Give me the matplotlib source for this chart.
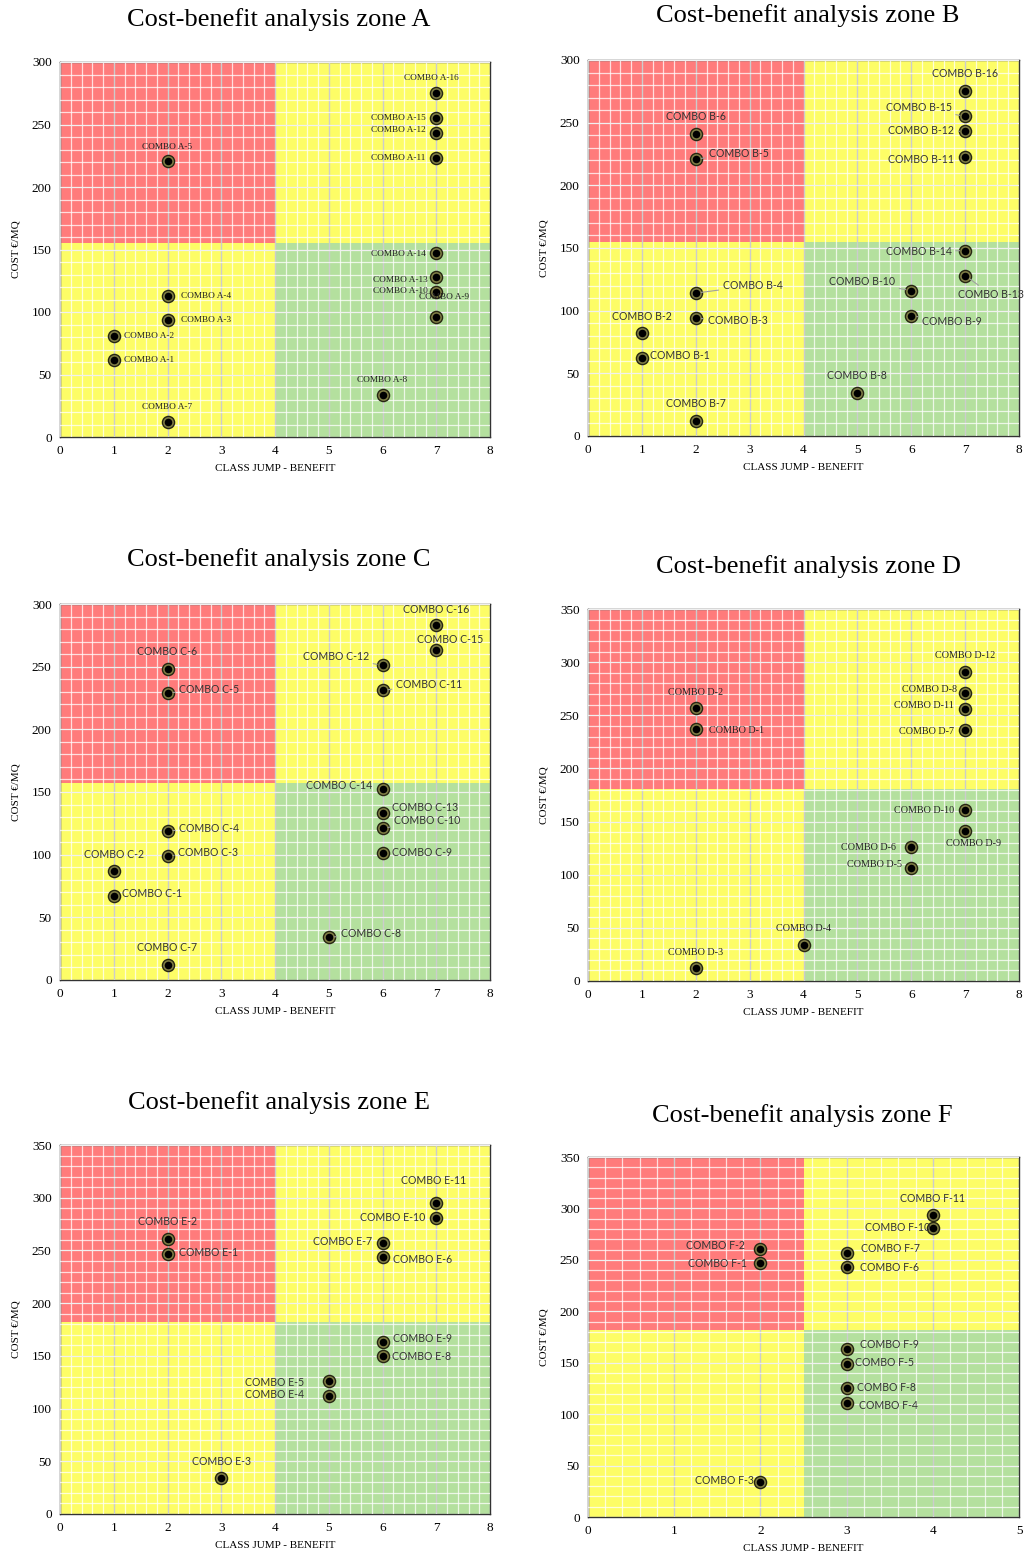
import matplotlib
matplotlib.use('Agg')
import matplotlib.pyplot as plt
import numpy as np

# ---- data ----
# zone A
a_names = ['COMBO A-1', 'COMBO A-2', 'COMBO A-3', 'COMBO A-4', 'COMBO A-5', 'COMBO A-7', 'COMBO A-8',
           'COMBO A-9', 'COMBO A-10', 'COMBO A-11', 'COMBO A-12', 'COMBO A-13', 'COMBO A-14',
           'COMBO A-15', 'COMBO A-16']
a_x = [1, 1, 2, 2, 2, 2, 6, 7, 7, 7, 7, 7, 7, 7, 7]
a_y = [62, 81, 94, 113, 221, 12, 34, 96, 116, 223, 243, 128, 147, 255, 275]

# zone B
b_names = ['COMBO B-1', 'COMBO B-2', 'COMBO B-3', 'COMBO B-4', 'COMBO B-5', 'COMBO B-6', 'COMBO B-7',
           'COMBO B-8', 'COMBO B-9', 'COMBO B-10', 'COMBO B-11', 'COMBO B-12', 'COMBO B-13',
           'COMBO B-14', 'COMBO B-15', 'COMBO B-16']
b_x = [1, 1, 2, 2, 2, 2, 2, 5, 6, 6, 7, 7, 7, 7, 7, 7]
b_y = [62, 82, 94, 114, 221, 241, 12, 34, 96, 116, 223, 243, 128, 148, 255, 275]

# zone C
c_names = ['COMBO C-1', 'COMBO C-2', 'COMBO C-3', 'COMBO C-4', 'COMBO C-5', 'COMBO C-6', 'COMBO C-7',
           'COMBO C-8', 'COMBO C-9', 'COMBO C-10', 'COMBO C-11', 'COMBO C-12', 'COMBO C-13',
           'COMBO C-14', 'COMBO C-15', 'COMBO C-16']
c_x = [1, 1, 2, 2, 2, 2, 2, 5, 6, 6, 6, 6, 6, 6, 7, 7]
c_y = [67, 87, 99, 119, 229, 248, 12, 34, 101, 121, 231, 251, 133, 152, 263, 283]

# zone D
d_names = ['COMBO D-1', 'COMBO D-2', 'COMBO D-3', 'COMBO D-4', 'COMBO D-5', 'COMBO D-6', 'COMBO D-7',
           'COMBO D-8', 'COMBO D-9', 'COMBO D-10', 'COMBO D-11', 'COMBO D-12']
d_x = [2, 2, 2, 4, 6, 6, 7, 7, 7, 7, 7, 7]
d_y = [237, 257, 12, 34, 106, 126, 236, 271, 141, 161, 256, 291]

# zone E
e_names = ['COMBO E-1', 'COMBO E-2', 'COMBO E-3', 'COMBO E-4', 'COMBO E-5', 'COMBO E-6', 'COMBO E-7',
           'COMBO E-8', 'COMBO E-9', 'COMBO E-10', 'COMBO E-11']
e_x = [2, 2, 3, 5, 5, 6, 6, 6, 6, 7, 7]
e_y = [247, 261, 34, 112, 126, 244, 257, 150, 163, 281, 295]

# zone F
f_names = ['COMBO F-1', 'COMBO F-2', 'COMBO F-3', 'COMBO F-4', 'COMBO F-5', 'COMBO F-6', 'COMBO F-7',
           'COMBO F-8', 'COMBO F-9', 'COMBO F-10', 'COMBO F-11']
f_x = [2, 2, 2, 3, 3, 3, 3, 3, 3, 4, 4]
f_y = [247, 261, 34, 111, 149, 243, 257, 125, 163, 281, 294]

# label placement (text x, text y, ha, leader line)
a_lab = [(1.2, 62, 'left', 0), (1.2, 81, 'left', 0), (2.25, 94, 'left', 0), (2.25, 113, 'left', 0),
         (2.0, 232, 'center', 0), (2.0, 24, 'center', 0), (6.0, 46, 'center', 0), (7.15, 112, 'center', 0),
         (6.85, 117, 'right', 0), (6.8, 223, 'right', 0), (6.8, 246, 'right', 0), (6.85, 126, 'right', 0),
         (6.8, 146, 'right', 0), (6.8, 255, 'right', 0), (6.9, 287, 'center', 0)]
b_lab = [(1.15, 64, 'left', 0), (1.0, 95, 'center', 0), (2.22, 92, 'left', 1), (2.5, 120, 'left', 1),
         (2.25, 225, 'left', 1), (2.0, 255, 'center', 0), (2.0, 26, 'center', 0), (5.0, 48, 'center', 0),
         (6.2, 91, 'left', 1), (5.7, 123, 'right', 1), (6.8, 221, 'right', 0), (6.8, 244, 'right', 1),
         (6.87, 113, 'left', 1), (6.75, 147, 'right', 1), (6.75, 262, 'right', 1), (7.0, 289, 'center', 0)]
c_lab = [(1.15, 69, 'left', 0), (1.0, 100, 'center', 0), (2.2, 102, 'left', 1), (2.22, 121, 'left', 1),
         (2.22, 232, 'left', 1), (2.0, 262, 'center', 0), (2.0, 26, 'center', 0), (5.22, 37, 'left', 1),
         (6.18, 102, 'left', 0), (6.22, 127, 'left', 1), (6.25, 236, 'left', 1), (5.75, 258, 'right', 1),
         (6.18, 138, 'left', 0), (5.8, 155, 'right', 0), (7.25, 272, 'center', 0), (7.0, 296, 'center', 0)]
d_lab = [(2.25, 236, 'left', 0), (2.0, 271, 'center', 0), (2.0, 27, 'center', 0), (4.0, 49, 'center', 0),
         (5.82, 110, 'right', 0), (5.72, 126, 'right', 0), (6.8, 235, 'right', 0), (6.85, 274, 'right', 0),
         (7.15, 129, 'center', 0), (6.8, 160, 'right', 0), (6.8, 259, 'right', 0), (7.0, 306, 'center', 0)]
e_lab = [(2.22, 248, 'left', 0), (2.0, 277, 'center', 0), (3.0, 50, 'center', 0), (4.55, 113, 'right', 0),
         (4.55, 125, 'right', 0), (6.2, 241, 'left', 0), (5.8, 258, 'right', 0), (6.18, 149, 'left', 0),
         (6.2, 166, 'left', 0), (6.8, 281, 'right', 0), (6.95, 316, 'center', 0)]
f_lab = [(1.85, 246, 'right', 0), (1.82, 264, 'right', 0), (1.93, 35, 'right', 0), (3.14, 108, 'left', 0),
         (3.1, 150, 'left', 0), (3.15, 243, 'left', 0), (3.17, 261, 'left', 0), (3.12, 126, 'left', 0),
         (3.15, 168, 'left', 0), (3.97, 281, 'right', 0), (4.0, 310, 'center', 0)]

RED = '#ff7b7b'
YELLOW = '#fdfd66'
GREEN = '#b4e09e'
SERIF = ['Liberation Serif', 'DejaVu Serif']
SANS = ['Lato', 'DejaVu Sans']


def draw_panel(ax, xs, ys, names, labs, xmax, ymax, xb, yb, label_font, label_size, label_color):
    # coloured zones
    ax.fill_between([0, xb], yb, ymax, color=RED, lw=0, zorder=0)
    ax.fill_between([xb, xmax], yb, ymax, color=YELLOW, lw=0, zorder=0)
    ax.fill_between([0, xb], 0, yb, color=YELLOW, lw=0, zorder=0)
    ax.fill_between([xb, xmax], 0, yb, color=GREEN, lw=0, zorder=0)

    ax.set_xlim(0, xmax)
    ax.set_ylim(0, ymax)
    ax.set_xticks(np.arange(0, xmax + 1, 1))
    ax.set_yticks(np.arange(0, ymax + 1, 50))
    ax.set_xticks(np.arange(0, xmax + 0.01, 0.2), minor=True)
    ax.set_yticks(np.arange(0, ymax + 1, 10), minor=True)
    ax.grid(which='minor', color='white', lw=0.9, alpha=0.75, zorder=1)
    ax.grid(which='major', axis='x', color='#cccccc', lw=1.0, zorder=1.5)
    ax.grid(which='major', axis='y', color='#f0f0f0', lw=0.9, zorder=1.5)
    ax.set_axisbelow(False)
    ax.tick_params(which='both', length=0, labelsize=9.5, pad=6)
    for t in ax.get_xticklabels() + ax.get_yticklabels():
        t.set_fontfamily(SERIF)
    for s in ax.spines.values():
        s.set_color('#333333')
        s.set_linewidth(1.0)

    ax.set_xlabel('CLASS JUMP - BENEFIT', family=SERIF, fontsize=8, labelpad=5)
    ax.set_ylabel('COST €/MQ', family=SERIF, fontsize=8, labelpad=8)

    # markers: dark outer ring, olive ring, black core
    ax.scatter(xs, ys, s=95, color='#262612', zorder=5, lw=0)
    ax.scatter(xs, ys, s=60, color='#7f7d45', zorder=6, lw=0)
    ax.scatter(xs, ys, s=30, color='black', zorder=7, lw=0)

    for name, x, y, (lx, ly, ha, leader) in zip(names, xs, ys, labs):
        if leader:
            ax.annotate(name, xy=(x, y), xytext=(lx, ly), ha=ha, va='center',
                        family=label_font, fontsize=label_size, color=label_color, zorder=8,
                        arrowprops=dict(arrowstyle='-', color='#a0a0a0', lw=0.8,
                                        shrinkA=1, shrinkB=4))
        else:
            ax.text(lx, ly, name, ha=ha, va='center', family=label_font,
                    fontsize=label_size, color=label_color, zorder=8)


fig = plt.figure(figsize=(10.35, 15.57), dpi=100)
W, H = 1035.0, 1557.0


def add_axes(x0, y0, x1, y1):
    return fig.add_axes([x0 / W, 1 - y1 / H, (x1 - x0) / W, (y1 - y0) / H])


axA = add_axes(60, 62, 490, 437)
axB = add_axes(588, 60, 1019, 436)
axC = add_axes(60, 604, 490, 980)
axD = add_axes(588, 609, 1019, 981)
axE = add_axes(60, 1145, 490, 1514)
axF = add_axes(588, 1157, 1019, 1517)

draw_panel(axA, a_x, a_y, a_names, a_lab, 8, 300, 4, 155, SERIF, 6.7, '#222222')
draw_panel(axB, b_x, b_y, b_names, b_lab, 8, 300, 4, 155, SANS, 7.6, '#333333')
draw_panel(axC, c_x, c_y, c_names, c_lab, 8, 300, 4, 157, SANS, 7.6, '#333333')
draw_panel(axD, d_x, d_y, d_names, d_lab, 8, 350, 4, 181, SERIF, 7.3, '#222222')
draw_panel(axE, e_x, e_y, e_names, e_lab, 8, 350, 4, 182, SANS, 7.6, '#333333')
draw_panel(axF, f_x, f_y, f_names, f_lab, 5, 350, 2.5, 182, SANS, 7.6, '#333333')

titles = [('Cost-benefit analysis zone A', 279, 20), ('Cost-benefit analysis zone B', 808, 16),
          ('Cost-benefit analysis zone C', 279, 560), ('Cost-benefit analysis zone D', 808, 567),
          ('Cost-benefit analysis zone E', 279, 1103), ('Cost-benefit analysis zone F', 802, 1116)]
for txt, tx, ty in titles:
    fig.text(tx / W, 1 - ty / H, txt, ha='center', va='center', family=SERIF, fontsize=19)

fig.savefig('out.png', dpi=100, facecolor='white')
